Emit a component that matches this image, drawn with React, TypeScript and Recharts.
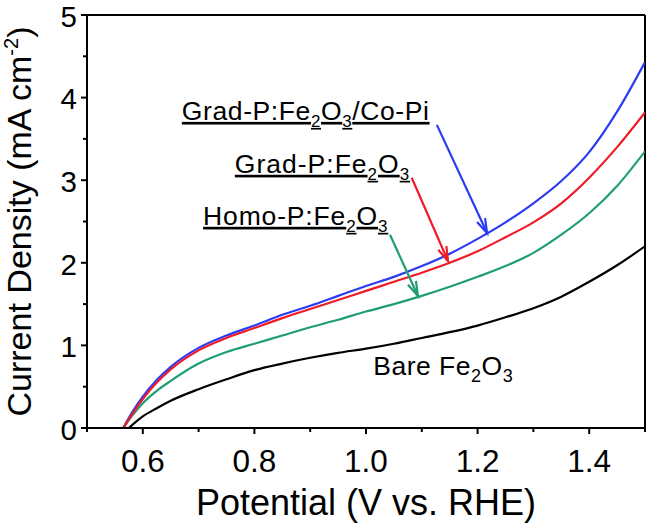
import React from 'react';
import { LineChart, Line, XAxis, YAxis, ReferenceLine, ReferenceDot } from 'recharts';

const FONT = '"Liberation Sans", Arial, Helvetica, sans-serif';

// potential (V vs. RHE) for the P-doped samples
const potentials = [0.565, 0.58, 0.6, 0.625, 0.65, 0.7, 0.75, 0.8, 0.85, 0.9, 0.95, 1.0, 1.05, 1.1, 1.15, 1.2, 1.25, 1.3, 1.35, 1.4, 1.45, 1.5];
const gradCoPi = [0, 0.18, 0.38, 0.58, 0.74, 0.97, 1.12, 1.24, 1.37, 1.48, 1.6, 1.72, 1.83, 1.96, 2.11, 2.29, 2.49, 2.72, 2.99, 3.34, 3.83, 4.43];
const gradP = [0, 0.16, 0.35, 0.55, 0.71, 0.94, 1.09, 1.21, 1.33, 1.44, 1.55, 1.66, 1.77, 1.88, 2.0, 2.14, 2.31, 2.49, 2.72, 3.03, 3.4, 3.82];
const homoP = [0, 0.14, 0.3, 0.45, 0.57, 0.78, 0.92, 1.02, 1.12, 1.22, 1.31, 1.41, 1.5, 1.6, 1.71, 1.83, 1.96, 2.12, 2.34, 2.6, 2.93, 3.35];
// bare film starts a little later
const barePotentials = [0.575, 0.6, 0.625, 0.65, 0.7, 0.75, 0.8, 0.85, 0.9, 0.95, 1.0, 1.05, 1.1, 1.15, 1.2, 1.25, 1.3, 1.35, 1.4, 1.45, 1.5];
const bare = [0, 0.14, 0.24, 0.33, 0.47, 0.59, 0.7, 0.78, 0.85, 0.91, 0.96, 1.02, 1.09, 1.16, 1.24, 1.34, 1.45, 1.59, 1.77, 1.97, 2.2];

const xTicks = [0.5, 0.6, 0.7, 0.8, 0.9, 1.0, 1.1, 1.2, 1.3, 1.4, 1.5];
const xTickLabels = ['0.6', '0.8', '1.0', '1.2', '1.4'];
const yTicks = [0, 0.5, 1, 1.5, 2, 2.5, 3, 3.5, 4, 4.5, 5];
const yTickLabels = ['0', '1', '2', '3', '4', '5'];

// label text pieces: [text, isSubscript]
const coPiLabel: [string, boolean][] = [['Grad-P:Fe', false], ['2', true], ['O', false], ['3', true], ['/Co-Pi', false]];
const gradLabel: [string, boolean][] = [['Grad-P:Fe', false], ['2', true], ['O', false], ['3', true]];
const homoLabel: [string, boolean][] = [['Homo-P:Fe', false], ['2', true], ['O', false], ['3', true]];
const bareLabel: [string, boolean][] = [['Bare Fe', false], ['2', true], ['O', false], ['3', true]];

const BLUE = '#2b3cf2';
const RED = '#ef1b27';
const GREEN = '#1f9d73';

const toRows = (xs: number[], ys: number[]) => xs.map((x, i) => ({ x, j: ys[i] }));

const XTick = (props: any) => {
  const { x, y, payload } = props;
  const lbl = payload.value.toFixed(1);
  const major = xTickLabels.includes(lbl);
  return (
    <g>
      <line x1={x} x2={x} y1={y} y2={y + (major ? 6 : 4)} stroke="#000" strokeWidth={2} />
      {major && (
        <text x={x} y={y + 44} textAnchor="middle" fontSize={31.5} fontFamily={FONT} fill="#000">
          {lbl}
        </text>
      )}
    </g>
  );
};

const YTick = (props: any) => {
  const { x, y, payload } = props;
  const lbl = String(payload.value);
  const major = yTickLabels.includes(lbl);
  return (
    <g>
      <line x1={x} x2={x - (major ? 6 : 4)} y1={y} y2={y} stroke="#000" strokeWidth={2} />
      {major && (
        <text x={x - 10} y={y} dy="0.4em" textAnchor="end" fontSize={29.5} fontFamily={FONT} fill="#000">
          {lbl}
        </text>
      )}
    </g>
  );
};

const Formula = ({ cx, cy, parts, underline, size, subSize, spacing }: any) => (
  <text
    x={cx}
    y={cy}
    fontSize={size}
    fontFamily={FONT}
    fill="#000"
    letterSpacing={spacing}
    textDecoration={underline ? 'underline' : undefined}
  >
    {parts.map(([t, sub]: [string, boolean], i: number) => {
      const prevSub = i > 0 && parts[i - 1][1];
      return (
        <tspan key={i} fontSize={sub ? subSize : size} dy={sub ? 7 : prevSub ? -7 : 0}>
          {t}
        </tspan>
      );
    })}
  </text>
);

const arrow = (color: string) => (props: any) => {
  const { x1, y1, x2, y2 } = props;
  const ang = Math.atan2(y2 - y1, x2 - x1);
  const len = 15;
  const spread = 0.3;
  const ax = x2 - len * Math.cos(ang - spread);
  const ay = y2 - len * Math.sin(ang - spread);
  const bx = x2 - len * Math.cos(ang + spread);
  const by = y2 - len * Math.sin(ang + spread);
  return (
    <g>
      <line x1={x1} y1={y1} x2={x2} y2={y2} stroke={color} strokeWidth={2.2} />
      <polyline points={`${ax},${ay} ${x2},${y2} ${bx},${by}`} fill="none" stroke={color} strokeWidth={2.2} />
    </g>
  );
};

const XTitle = ({ viewBox }: any) => (
  <text
    x={viewBox.x + viewBox.width / 2}
    y={viewBox.y + 87}
    textAnchor="middle"
    fontSize={36}
    fontFamily={FONT}
    fill="#000"
  >
    Potential (V vs. RHE)
  </text>
);

const YTitle = ({ viewBox }: any) => {
  const x = viewBox.x + 31;
  const y = viewBox.y + viewBox.height / 2;
  return (
    <text
      x={x}
      y={y}
      transform={`rotate(-90, ${x}, ${y})`}
      textAnchor="middle"
      fontSize={34}
      fontFamily={FONT}
      fill="#000"
    >
      <tspan>Current Density (mA cm</tspan>
      <tspan fontSize={20} dy={-13}>-2</tspan>
      <tspan dy={13}>)</tspan>
    </text>
  );
};

export default function App() {
  return (
    <div style={{ position: 'absolute', left: 0, top: 0, background: '#fff' }}>
      <LineChart width={649} height={525} margin={{ top: 15, right: 4, bottom: 0, left: 0 }}>
        <XAxis
          dataKey="x"
          type="number"
          domain={[0.5, 1.5]}
          ticks={xTicks}
          allowDataOverflow
          height={97}
          tickSize={0}
          tickMargin={0}
          tickLine={false}
          tick={<XTick />}
          interval={0}
          axisLine={{ stroke: '#000', strokeWidth: 2 }}
          label={<XTitle />}
        />
        <YAxis
          type="number"
          domain={[0, 5]}
          ticks={yTicks}
          allowDataOverflow
          width={87}
          tickSize={0}
          tickMargin={0}
          tickLine={false}
          tick={<YTick />}
          interval={0}
          axisLine={{ stroke: '#000', strokeWidth: 2 }}
          label={<YTitle />}
        />
        <ReferenceLine y={5} stroke="#000" strokeWidth={2} ifOverflow="visible" />
        <ReferenceLine x={1.5} stroke="#000" strokeWidth={2} ifOverflow="visible" />

        <Line data={toRows(barePotentials, bare)} dataKey="j" type="monotone" stroke="#000" strokeWidth={2.2} dot={false} isAnimationActive={false} />
        <Line data={toRows(potentials, homoP)} dataKey="j" type="monotone" stroke={GREEN} strokeWidth={2.2} dot={false} isAnimationActive={false} />
        <Line data={toRows(potentials, gradCoPi)} dataKey="j" type="monotone" stroke={BLUE} strokeWidth={2.2} dot={false} isAnimationActive={false} />
        <Line data={toRows(potentials, gradP)} dataKey="j" type="monotone" stroke={RED} strokeWidth={2.2} dot={false} isAnimationActive={false} />

        <ReferenceLine segment={[{ x: 1.127, y: 3.67 }, { x: 1.217, y: 2.36 }]} shape={arrow(BLUE)} ifOverflow="visible" />
        <ReferenceLine segment={[{ x: 1.082, y: 3.03 }, { x: 1.147, y: 2.02 }]} shape={arrow(RED)} ifOverflow="visible" />
        <ReferenceLine segment={[{ x: 1.043, y: 2.34 }, { x: 1.093, y: 1.6 }]} shape={arrow(GREEN)} ifOverflow="visible" />

        <ReferenceDot x={0.67} y={3.73} r={0} ifOverflow="visible" shape={(p: any) => <Formula cx={p.cx} cy={p.cy} parts={coPiLabel} underline size={26.5} subSize={17} spacing={0.6} />} />
        <ReferenceDot x={0.765} y={3.09} r={0} ifOverflow="visible" shape={(p: any) => <Formula cx={p.cx} cy={p.cy} parts={gradLabel} underline size={26.5} subSize={17} spacing={1.0} />} />
        <ReferenceDot x={0.708} y={2.46} r={0} ifOverflow="visible" shape={(p: any) => <Formula cx={p.cx} cy={p.cy} parts={homoLabel} underline size={26.5} subSize={17} spacing={0.85} />} />
        <ReferenceDot x={1.013} y={0.64} r={0} ifOverflow="visible" shape={(p: any) => <Formula cx={p.cx} cy={p.cy} parts={bareLabel} size={26.5} subSize={18} spacing={0.5} />} />
      </LineChart>
    </div>
  );
}
